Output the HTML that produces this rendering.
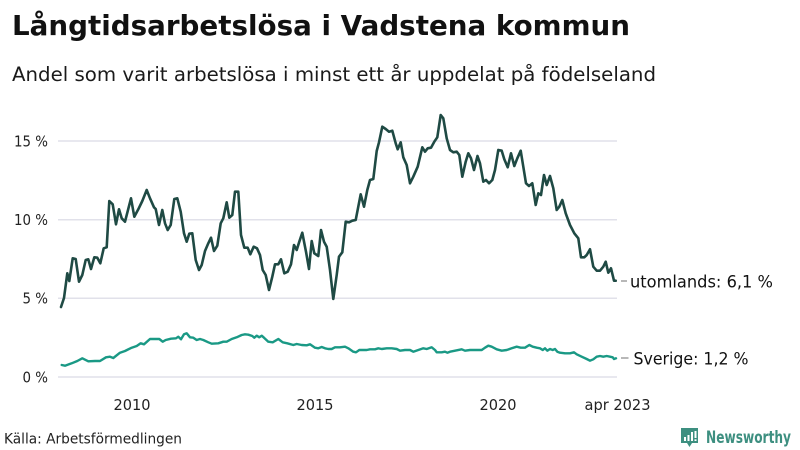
<!DOCTYPE html>
<html>
<head>
<meta charset="utf-8">
<style>
  html,body{margin:0;padding:0;background:#fff;}
  svg{display:block;}
  text{font-family:"DejaVu Sans", "Liberation Sans", sans-serif;}
</style>
</head>
<body>
<svg width="800" height="450" viewBox="0 0 800 450" xmlns="http://www.w3.org/2000/svg">
  <rect width="800" height="450" fill="#ffffff"/>
  <!-- Title -->
  <text x="12" y="35" font-size="28" font-weight="bold" fill="#111" textLength="618" lengthAdjust="spacingAndGlyphs">Långtidsarbetslösa i Vadstena kommun</text>
  <text x="12" y="81" font-size="19.5" fill="#1a1a1a" textLength="644" lengthAdjust="spacingAndGlyphs">Andel som varit arbetslösa i minst ett år uppdelat på födelseland</text>

  <!-- Gridlines -->
  <g stroke="#e1e1ea" stroke-width="1.5">
    <line x1="58" y1="141" x2="617" y2="141"/>
    <line x1="58" y1="219.7" x2="617" y2="219.7"/>
    <line x1="58" y1="298.3" x2="617" y2="298.3"/>
    <line x1="58" y1="377" x2="617" y2="377"/>
  </g>

  <!-- Y labels -->
  <g font-size="15" fill="#222">
    <text x="14" y="146.5" textLength="34" lengthAdjust="spacingAndGlyphs">15 %</text>
    <text x="14" y="225" textLength="34" lengthAdjust="spacingAndGlyphs">10 %</text>
    <text x="22.5" y="303.5" textLength="25.5" lengthAdjust="spacingAndGlyphs">5 %</text>
    <text x="22.5" y="382.5" textLength="25.5" lengthAdjust="spacingAndGlyphs">0 %</text>
  </g>

  <!-- X labels -->
  <g font-size="15.5" fill="#222">
    <text x="113.5" y="410" textLength="37" lengthAdjust="spacingAndGlyphs">2010</text>
    <text x="296.5" y="410" textLength="37" lengthAdjust="spacingAndGlyphs">2015</text>
    <text x="479.5" y="410" textLength="37" lengthAdjust="spacingAndGlyphs">2020</text>
    <text x="584.5" y="410" textLength="66" lengthAdjust="spacingAndGlyphs">apr 2023</text>
  </g>

  <!-- Sverige series -->
  <polyline fill="none" stroke="#1a9985" stroke-width="2.4" stroke-linejoin="round" stroke-linecap="round" points="61.7,365 65,365.7 71.7,363.3 77.3,361 82.3,358.3 88.3,361.3 95,361 100,361 106,357.3 110,356.7 113.3,358 120,352.7 125,351 131.7,347.7 136.7,346 140.7,343.3 144,344.3 150,339 155,339 159.3,339 162.7,341.7 165.7,340 171,338.7 176,338.3 178.3,336.7 181,339.3 184,334.3 186.7,333.3 190,337.3 193.3,337.7 196.7,340 200,339 203.3,340 208.3,342.3 211.7,343.7 218.3,343.3 223.3,341.7 226.7,341.7 231.7,339 236.7,337.3 241.7,335 245,334.3 248.3,334.7 252.3,336 254.3,337.7 256.7,335.7 259.3,337.3 261.7,335.7 264,337.7 268.3,341.7 272.7,342.3 278.3,339 282.7,342.3 287.3,343.3 293.3,345 296.7,344 301.7,345 306.7,345.3 310,344.3 315,347.7 318.3,348.3 321.7,347 325,348.3 328.3,349 331.7,349 335,347.3 340,347.3 345,346.7 348.3,348.3 353.3,351.7 356,352.3 359.3,350 363.3,350 366.7,350 370,349.3 375,349.3 378.3,348.3 381.7,349 386.7,348.3 391.7,348.3 396.7,349 400,350.7 405,350 410,350 413.3,351.7 418.3,350 423.3,348.3 426.7,349 431.7,347.3 435,350 436.7,352.3 441.7,352.3 445,351.7 447.3,352.7 450,351.7 455,350.7 461.7,349.3 465,350.7 470,350 476.7,350 481.7,350 485,347.7 488.3,345.7 491.7,346.7 496.7,349.3 501.7,350.7 506.7,350 511.7,348.3 516.7,346.7 520.7,347.7 525,347.7 529.3,345 532.7,346.7 536.7,347.7 540,348.3 542.7,350 545,348.3 547.3,350.7 550,349 552.7,350 555,349 557.3,351.7 560,352.7 565,353.3 570,353.3 574,352.3 576.7,354.3 581.7,356.7 586.7,359 590,360.7 593.3,359.3 596.7,356.7 600,356 603.3,356.7 606.7,356 610,356.7 612.7,357.3 614,359 616,358.3"/>

  <!-- utomlands series -->
  <polyline fill="none" stroke="#1f4a44" stroke-width="2.6" stroke-linejoin="round" stroke-linecap="round" points="61,307 64,298 67.3,273.3 69.3,281 72.7,258.3 75.7,259 79,281.7 82.3,275 85.7,260 88.3,259.3 91,269 94.3,257.3 97.3,257.7 100.3,263.3 103.7,248.3 106.7,247.3 109.3,201 112.7,204.3 116,224.3 119,209.3 121.7,218.3 125,221.7 131,198.3 134.3,216.7 138.3,209.3 142.3,201 146.7,190 150,198.3 154,207.3 155.7,209 159,225 162.3,210 165,223.3 167.7,230 170.7,225 174.3,199 177.3,198.3 180.7,211.7 184,233.3 186.7,241.7 189.3,233.7 192.3,233.3 195.7,260 199,270 201.7,265 205,251 208.3,243.3 211,237.7 214,251 217.3,245.7 220.7,223.3 223.3,218.3 226.7,202.3 229.3,217.7 232.3,215 235,191.7 238.3,191.7 241,235 244.3,247.7 247.7,247.7 250.3,254.3 253.7,246.7 257,248.3 260,255 262.7,270 265.7,275 269,290 272.3,276.7 275,264.3 278.3,264.3 281,259.3 284.3,273.3 287.7,271.7 291,264.3 294,245 296.7,250 299.3,241.7 302.3,232.7 306,251.7 309,269 311.7,241 314.3,253.3 318.3,256 321,230 324,241.7 326.7,246.7 330,270 333.3,299 336.7,275 339,256.7 342.3,252.3 345.7,221.7 349,222.3 352.3,220.7 355.7,220 360.7,194.3 364,206.7 367.3,190 370,180 373.3,179 376.7,151 379,142.3 382.3,126.7 385.7,129 389,131.7 392.3,130.7 395.7,143.3 397.7,149.3 400.7,142.3 403.3,157.3 406.7,165 410,183.3 413.3,176.7 417.7,166.7 422.3,147.3 425,151.7 427.7,148.3 431,147.7 434.3,141.7 437.3,137.3 440.7,115 443.3,118.3 446.7,138.3 450,150 453.3,152.3 456.7,151.7 459.3,155 462.3,176.7 465.7,161.7 468.3,153.3 471,158.3 474,170 477.5,156 480,163.3 483.3,181.7 486,180 489,183.3 492.3,180 495,170 498.3,150 501.7,150.7 504.3,159.3 507.7,167.3 511,153.3 514.3,166 517.3,158.3 520.7,150.7 523.3,166.7 526,183.3 529,186 532.3,183.3 535.7,205 538.3,193.3 541,195 544,175 546.7,185 550,176 553.3,188.3 556.7,210 559.3,206.7 562.3,200 565.7,213.3 570,225 574.3,233.3 578.3,238.3 581,257.3 584.3,257.3 586.7,255 590,249.3 593.3,266.7 596.7,270.7 600,270.7 603.3,266.7 605.7,261.7 608.3,272.7 611,268.3 614,280.7 615.7,280.7"/>

  <!-- End labels -->
  <line x1="621" y1="281" x2="627" y2="281" stroke="#888" stroke-width="1.2"/>
  <text x="630" y="287.5" font-size="17" fill="#111" textLength="143" lengthAdjust="spacingAndGlyphs">utomlands: 6,1 %</text>
  <line x1="621" y1="358" x2="628.5" y2="358" stroke="#888" stroke-width="1.2"/>
  <text x="633.5" y="364.5" font-size="17" fill="#111" textLength="115" lengthAdjust="spacingAndGlyphs">Sverige: 1,2 %</text>

  <!-- Source -->
  <text x="4" y="443.5" font-size="14" fill="#222" textLength="178" lengthAdjust="spacingAndGlyphs">Källa: Arbetsförmedlingen</text>

  <!-- Logo -->
  <g>
    <path d="M681,428 h17 v15 h-6 l-2.5,4 l-2.5,-4 h-6 z" fill="#3d8f80"/>
    <rect x="684" y="437" width="2" height="4" fill="#fff"/>
    <rect x="687.5" y="435" width="2" height="6" fill="#fff"/>
    <rect x="691" y="432" width="2" height="9" fill="#fff"/>
    <rect x="694.5" y="431" width="2" height="7" fill="#fff"/>
    <rect x="694.5" y="439.3" width="2" height="1.7" fill="#fff"/>
    <text x="706" y="443" font-size="17" font-weight="bold" fill="#3d8f80" textLength="85" lengthAdjust="spacingAndGlyphs">Newsworthy</text>
  </g>
</svg>
</body>
</html>
